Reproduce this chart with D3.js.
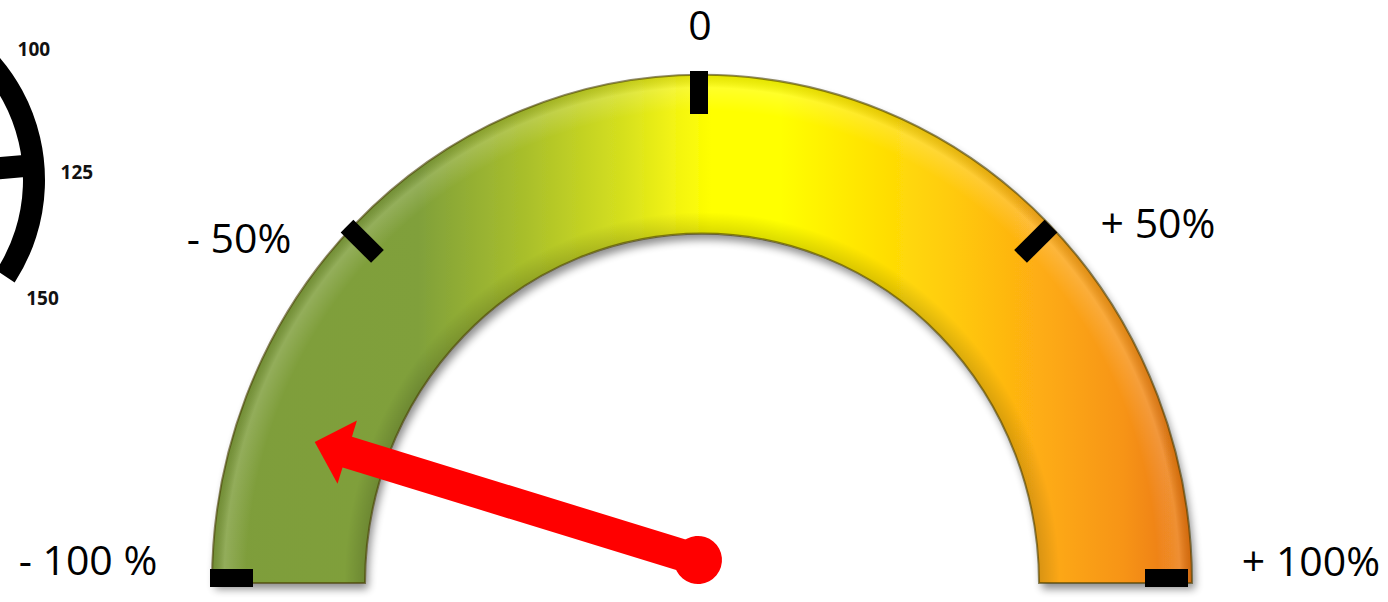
<!DOCTYPE html>
<html>
<head>
<meta charset="utf-8">
<script src="https://cdn.jsdelivr.net/npm/d3@7/dist/d3.min.js"></script>
<style>
  html, body { margin: 0; padding: 0; background: #fff; }
  svg { display: block; }
  .lbl { font-family: "Open Sans", sans-serif; font-size: 41px; fill: #000; }
  .small { font-family: "Open Sans", sans-serif; font-size: 19px; font-weight: bold; fill: #111; }
</style>
</head>
<body>
<div id="chart"></div>
<script>
"use strict";

// gauge data
var tickValues = [-100, -50, 0, 50, 100];
var tickLabels = ["- 100 %", "- 50%", "0", "+ 50%", "+ 100%"];
var needleValue = -81;

// the second gauge, cut off at the left edge
var sideValues = [100, 125, 150];
var sideNeedle = 123;

var width = 1388, height = 602;

var svg = d3.select("#chart").append("svg")
  .attr("width", width).attr("height", height);

var defs = svg.append("defs");

// colour ramp from green to orange, left to right
var grad = defs.append("linearGradient").attr("id", "ramp")
  .attr("gradientUnits", "userSpaceOnUse")
  .attr("x1", -490).attr("x2", 490).attr("y1", 0).attr("y2", 0);
[[0, "#7e9d3b"], [0.21, "#80a03b"], [0.32, "#a9bf2b"], [0.42, "#d6e01e"],
 [0.47, "#f2f313"], [0.51, "#ffff00"], [0.58, "#ffff00"], [0.66, "#ffe600"],
 [0.75, "#ffcc0e"], [0.84, "#feae12"], [0.93, "#f79416"], [1, "#e8730f"]]
  .forEach(function (s) {
    grad.append("stop").attr("offset", s[0]).attr("stop-color", s[1]);
  });

// soft rim near the outer edge, darker near the inner edge
var gloss = defs.append("radialGradient").attr("id", "gloss")
  .attr("gradientUnits", "userSpaceOnUse")
  .attr("cx", 0).attr("cy", 0).attr("r", 490);
[[0.69, "#000", 0.14], [0.73, "#000", 0], [0.93, "#fff", 0], [0.975, "#fff", 0.16], [1, "#000", 0.1]]
  .forEach(function (s) {
    gloss.append("stop").attr("offset", s[0]).attr("stop-color", s[1]).attr("stop-opacity", s[2]);
  });

var shadow = defs.append("filter").attr("id", "shadow")
  .attr("x", "-10%").attr("y", "-10%").attr("width", "120%").attr("height", "125%");
shadow.append("feGaussianBlur").attr("in", "SourceAlpha").attr("stdDeviation", 4).attr("result", "b");
shadow.append("feOffset").attr("in", "b").attr("dx", 3).attr("dy", 6).attr("result", "o");
shadow.append("feComponentTransfer").attr("in", "o").attr("result", "s")
  .append("feFuncA").attr("type", "linear").attr("slope", 0.45);
var merge = shadow.append("feMerge");
merge.append("feMergeNode").attr("in", "s");
merge.append("feMergeNode").attr("in", "SourceGraphic");

// main gauge: slightly taller than wide
var cx = 702, cy = 583, rx = 490, ry = 508, inner = 337;
var angle = d3.scaleLinear().domain([-100, 100]).range([-90, 90]);
var rad = function (d) { return d * Math.PI / 180; };

var arc = d3.arc().innerRadius(inner).outerRadius(rx)
  .startAngle(-Math.PI / 2).endAngle(Math.PI / 2);

var gauge = svg.append("g")
  .attr("transform", "translate(" + cx + "," + cy + ") scale(1," + (ry / rx) + ")");

gauge.append("path").attr("d", arc())
  .attr("fill", "url(#ramp)")
  .attr("filter", "url(#shadow)");
gauge.append("path").attr("d", arc())
  .attr("fill", "url(#gloss)")
  .attr("stroke", "rgba(70,60,0,0.6)")
  .attr("stroke-width", 2);

// tick marks, placed on the outer edge of the ellipse
var tickCx = 699, tickCy = 578;
function edgeRadius(a) {
  var t = rad(a);
  return 1 / Math.sqrt(Math.pow(Math.sin(t) / rx, 2) + Math.pow(Math.cos(t) / ry, 2));
}
svg.append("g").selectAll("rect").data(tickValues).enter().append("rect")
  .attr("transform", function (d) {
    return "translate(" + tickCx + "," + tickCy + ") rotate(" + angle(d) + ")";
  })
  .attr("x", -9).attr("width", 18)
  .attr("y", function (d) { return -edgeRadius(angle(d)) + 1; })
  .attr("height", 43)
  .attr("fill", "#000");

// labels
var labelPos = [[88, 575], [239, 253], [700, 40], [1158, 238], [1311, 576]];
svg.append("g").selectAll("text").data(tickLabels).enter().append("text")
  .attr("class", "lbl")
  .attr("text-anchor", "middle")
  .attr("x", function (d, i) { return labelPos[i][0]; })
  .attr("y", function (d, i) { return labelPos[i][1]; })
  .text(function (d) { return d; });

// needle
var pivot = [698, 560];
var needle = svg.append("g")
  .attr("transform", "translate(" + pivot[0] + "," + pivot[1] + ") rotate(" + angle(needleValue) + ")");
needle.append("rect").attr("x", -16).attr("y", -372).attr("width", 32).attr("height", 372)
  .attr("fill", "#ff0000");
needle.append("path").attr("d", "M0,-401L33,-367L-33,-367Z").attr("fill", "#ff0000");
needle.append("circle").attr("r", 24).attr("fill", "#ff0000");

// partial gauge on the far left
var side = { cx: -143, cy: 180, r0: 166, r1: 188, lr: 220 };
var sideAngle = d3.scaleLinear().domain([100, 150]).range([53.5, 122.5]);
var sg = svg.append("g").attr("transform", "translate(" + side.cx + "," + side.cy + ")");
sg.append("path")
  .attr("d", d3.arc().innerRadius(side.r0).outerRadius(side.r1).startAngle(0).endAngle(rad(123))())
  .attr("fill", "#000");
sg.append("rect")
  .attr("transform", "rotate(" + (sideAngle(sideNeedle) - 90) + ")")
  .attr("x", 0).attr("y", -11).attr("width", side.r0 + 2).attr("height", 22)
  .attr("fill", "#000");
sg.selectAll("text").data(sideValues).enter().append("text")
  .attr("class", "small")
  .attr("text-anchor", "middle")
  .attr("dy", "0.36em")
  .attr("x", function (d) { return side.lr * Math.sin(rad(sideAngle(d))); })
  .attr("y", function (d) { return -side.lr * Math.cos(rad(sideAngle(d))); })
  .text(function (d) { return d; });
</script>
</body>
</html>
